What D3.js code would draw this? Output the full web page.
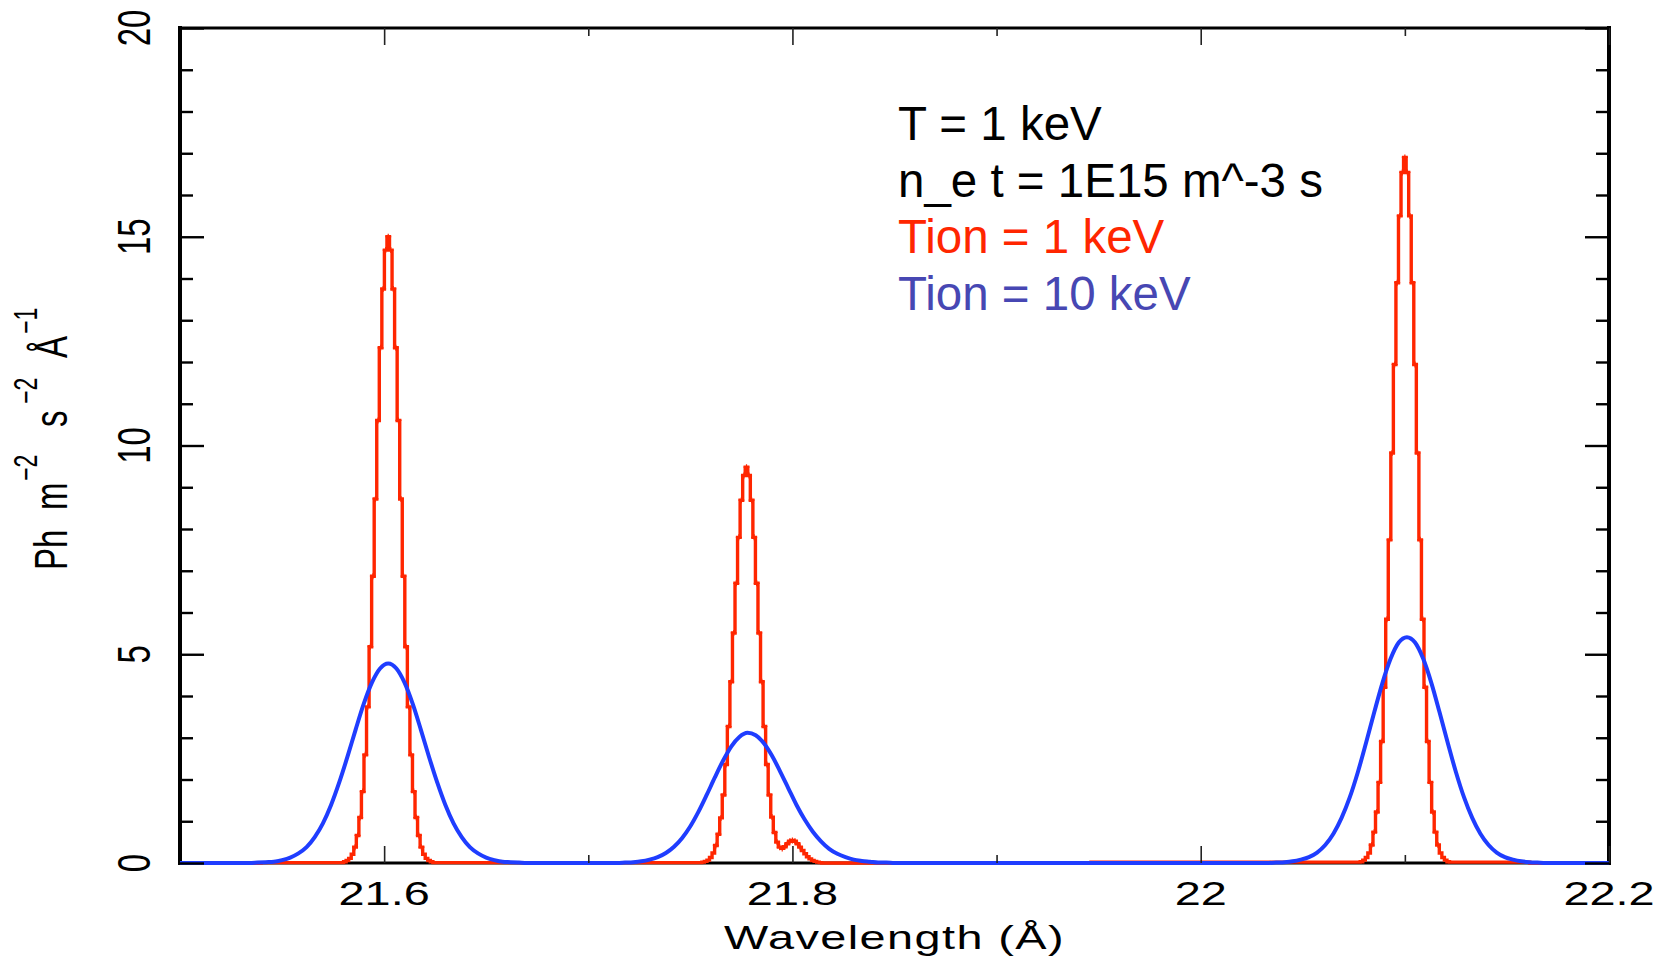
<!DOCTYPE html>
<html>
<head>
<meta charset="utf-8">
<script src="https://cdn.jsdelivr.net/npm/d3@7"></script>
<style>
  html, body { margin: 0; padding: 0; background: #ffffff; }
  svg { display: block; }
  text { font-family: "Liberation Sans", Arial, Helvetica, sans-serif; }
</style>
</head>
<body>
<svg id="chart" width="1671" height="958"></svg>
<script>
// ---------------- DATA ----------------
const xDomain = [21.5, 22.2];
const yDomain = [0, 20];

const xMajorTicks = [21.6, 21.8, 22.0, 22.2];
const xMinorTicks = [21.7, 21.9, 22.1];
const xTickLabels = ["21.6", "21.8", "22", "22.2"];

const yMajorTicks = [0, 5, 10, 15, 20];
const yMinorTicks = [1, 2, 3, 4, 6, 7, 8, 9, 11, 12, 13, 14, 16, 17, 18, 19];
const yTickLabels = ["0", "5", "10", "15", "20"];

const xTitle = "Wavelength (\u00C5)";
const legendLines = ["T = 1 keV", "n_e t = 1E15 m^-3 s", "Tion = 1 keV", "Tion = 10 keV"];

// Tion = 1 keV spectrum (red), histogram bins of 0.00125 \u00C5
const redBinWidth = 0.00125;
const red1Start = 21.5795;
const red1Flux = [0.01,0.03,0.06,0.11,0.21,0.38,0.66,1.09,1.71,2.59,3.74,5.18,6.87,8.72,10.60,12.34,13.75,14.68,
                  15.00,
                  14.68,13.75,12.34,10.60,8.72,6.87,5.18,3.74,2.59,1.71,1.09,0.66,0.38,0.21,0.11,0.06,0.03,0.01];
const red2Start = 21.755;
const red2Flux = [0.01,0.02,0.04,0.07,0.13,0.24,0.42,0.69,1.08,1.63,2.36,3.27,4.34,5.51,6.70,7.80,8.69,9.28,
                  9.48,
                  9.28,8.69,7.80,6.70,5.51,4.34,3.27,2.36,1.63,
                  1.10,0.73,0.50,0.38,0.35,0.39,0.46,0.52,0.54,0.52,0.46,0.38,0.30,0.22,0.15,0.10,0.06,0.04,0.02,0.01,0.00];
const red3Start = 22.0775;
const red3Flux = [0.02,0.03,0.07,0.13,0.24,0.43,0.74,1.22,1.93,2.91,4.21,5.84,7.74,9.82,11.94,13.90,15.50,16.54,
                  16.90,
                  16.54,15.50,13.90,11.94,9.82,7.74,5.84,4.21,2.91,1.93,1.22,0.74,0.43,0.24,0.13,0.07,0.03,0.02];

const blueStep = 0.004;
const blue1Start = 21.534;
const blue1Flux = [0.00,0.01,0.02,0.03,0.07,0.13,0.23,0.38,0.62,0.95,1.39,1.93,2.54,3.19,3.81,4.32,4.66,
                   4.78,
                   4.66,4.32,3.81,3.19,2.54,1.93,1.39,0.95,0.62,0.38,0.23,0.13,0.07,0.03,0.02,0.01,0.00];
const blue2Start = 21.710;
const blue2Flux = [0.00,0.00,0.01,0.02,0.04,0.08,0.14,0.24,0.39,0.60,0.88,1.23,1.63,2.05,2.45,2.79,3.02,
                   3.12,
                   3.06,2.87,2.57,2.19,1.79,1.39,1.04,0.75,0.52,0.34,0.22,0.14,0.08,0.05,0.03,0.01,0.01,0.00];
const blue3Start = 22.033;
const blue3Flux = [0.00,0.01,0.02,0.04,0.08,0.14,0.25,0.43,0.70,1.08,1.57,2.18,2.88,3.61,4.31,4.89,5.28,
                   5.41,
                   5.28,4.89,4.31,3.61,2.88,2.18,1.57,1.08,0.70,0.43,0.25,0.14,0.08,0.04,0.02,0.01,0.00];

// ---------------- LAYOUT ----------------
const plot = { left: 180, right: 1609, top: 28, bottom: 863 };
const SX = 1.42;            // horizontal stretch of the original plot's lettering
const tickFont = 33;
const redColor = "#ff2600";
const blueColor = "#1f3dff";
const blueText = "#4747b3";

const svg = d3.select("#chart");
const x = d3.scaleLinear().domain(xDomain).range([plot.left, plot.right]);
const y = d3.scaleLinear().domain(yDomain).range([plot.bottom, plot.top]);

function bins(start, step, flux) { return flux.map((v, i) => [start + i * step, v]); }

const redPts = [[xDomain[0], 0]]
  .concat(bins(red1Start, redBinWidth, red1Flux))
  .concat(bins(red2Start, redBinWidth, red2Flux))
  .concat(bins(red3Start, redBinWidth, red3Flux))
  .concat([[xDomain[1], 0]]);
const bluePts = [[xDomain[0], 0]]
  .concat(bins(blue1Start, blueStep, blue1Flux))
  .concat(bins(blue2Start, blueStep, blue2Flux))
  .concat(bins(blue3Start, blueStep, blue3Flux))
  .concat([[xDomain[1], 0]]);

// ---------------- FRAME ----------------
const frame = svg.append("g").attr("stroke", "#000").attr("stroke-linecap", "square");
frame.append("line").attr("x1", x(xDomain[0])).attr("x2", x(xDomain[1])).attr("y1", y(yDomain[0])).attr("y2", y(yDomain[0])).attr("stroke-width", 3);
frame.append("line").attr("x1", x(xDomain[0])).attr("x2", x(xDomain[1])).attr("y1", y(yDomain[1])).attr("y2", y(yDomain[1])).attr("stroke-width", 3);
frame.append("line").attr("x1", x(xDomain[0])).attr("x2", x(xDomain[0])).attr("y1", y(yDomain[0])).attr("y2", y(yDomain[1])).attr("stroke-width", 4);
frame.append("line").attr("x1", x(xDomain[1])).attr("x2", x(xDomain[1])).attr("y1", y(yDomain[0])).attr("y2", y(yDomain[1])).attr("stroke-width", 4);

// ---------------- CURVES ----------------
const redLine = d3.line().x(d => x(d[0])).y(d => y(d[1])).curve(d3.curveStep);
const blueLine = d3.line().x(d => x(d[0])).y(d => y(d[1])).curve(d3.curveMonotoneX);

svg.append("path").datum(redPts).attr("d", redLine)
  .attr("fill", "none").attr("stroke", redColor).attr("stroke-width", 3.4);
// small "+" markers on the red histogram points
svg.append("g").selectAll("path").data(redPts.filter(d => d[1] > 0.3)).join("path")
  .attr("d", d => `M${x(d[0]) - 3},${y(d[1])}h6M${x(d[0])},${y(d[1]) - 3}v6`)
  .attr("stroke", redColor).attr("stroke-width", 1.2).attr("fill", "none");

svg.append("path").datum(bluePts).attr("d", blueLine)
  .attr("fill", "none").attr("stroke", blueColor).attr("stroke-width", 4).attr("stroke-linejoin", "round");

// ---------------- TICKS (d3 axes, inward) ----------------
function styleAxis(g, width, color) {
  g.select(".domain").remove();
  g.selectAll(".tick text").remove();
  g.selectAll(".tick line").attr("stroke", color).attr("stroke-width", width);
}
const noLabel = () => "";
svg.append("g").attr("transform", `translate(0,${plot.bottom})`)
  .call(d3.axisBottom(x).tickValues(xMajorTicks).tickSize(-17).tickFormat(noLabel)).call(g => styleAxis(g, 1.6, "#222"));
svg.append("g").attr("transform", `translate(0,${plot.bottom})`)
  .call(d3.axisBottom(x).tickValues(xMinorTicks).tickSize(-8).tickFormat(noLabel)).call(g => styleAxis(g, 1.6, "#222"));
svg.append("g").attr("transform", `translate(0,${plot.top})`)
  .call(d3.axisTop(x).tickValues(xMajorTicks).tickSize(-17).tickFormat(noLabel)).call(g => styleAxis(g, 1.6, "#222"));
svg.append("g").attr("transform", `translate(0,${plot.top})`)
  .call(d3.axisTop(x).tickValues(xMinorTicks).tickSize(-8).tickFormat(noLabel)).call(g => styleAxis(g, 1.6, "#222"));

svg.append("g").attr("transform", `translate(${plot.left},0)`)
  .call(d3.axisLeft(y).tickValues(yMajorTicks).tickSize(-24).tickFormat(noLabel)).call(g => styleAxis(g, 2.4, "#000"));
svg.append("g").attr("transform", `translate(${plot.left},0)`)
  .call(d3.axisLeft(y).tickValues(yMinorTicks).tickSize(-13).tickFormat(noLabel)).call(g => styleAxis(g, 2.4, "#000"));
svg.append("g").attr("transform", `translate(${plot.right},0)`)
  .call(d3.axisRight(y).tickValues(yMajorTicks).tickSize(-24).tickFormat(noLabel)).call(g => styleAxis(g, 2.4, "#000"));
svg.append("g").attr("transform", `translate(${plot.right},0)`)
  .call(d3.axisRight(y).tickValues(yMinorTicks).tickSize(-13).tickFormat(noLabel)).call(g => styleAxis(g, 2.4, "#000"));

// ---------------- TICK LABELS ----------------
svg.append("g").selectAll("text").data(xMajorTicks).join("text")
  .attr("transform", d => `translate(${x(d)},905) scale(${SX},1)`)
  .attr("text-anchor", "middle").attr("font-size", tickFont).attr("fill", "#000")
  .text((d, i) => xTickLabels[i]);

svg.append("g").selectAll("text").data(yMajorTicks).join("text")
  .attr("transform", d => `translate(150,${y(d)}) scale(${SX},1) rotate(-90)`)
  .attr("text-anchor", "middle").attr("font-size", tickFont).attr("fill", "#000")
  .text((d, i) => yTickLabels[i]);

// ---------------- AXIS TITLES ----------------
svg.append("text")
  .attr("transform", `translate(${(plot.left + plot.right) / 2},949) scale(${SX},1)`)
  .attr("text-anchor", "middle").attr("font-size", tickFont).attr("fill", "#000")
  .attr("letter-spacing", 1)
  .text(xTitle);

const yt = svg.append("text")
  .attr("transform", `translate(67,570) scale(${SX},1) rotate(-90)`)
  .attr("text-anchor", "start").attr("font-size", tickFont).attr("fill", "#000");
const yParts = [
  { t: "Ph", x: 0, sup: false },
  { t: "m", x: 60, sup: false },
  { t: "\u22122", x: 89, sup: true },
  { t: "s", x: 143, sup: false },
  { t: "\u22122", x: 166, sup: true },
  { t: "\u00C5", x: 212, sup: false },
  { t: "\u22121", x: 236, sup: true }
];
let prevSup = false;
yParts.forEach(p => {
  const dy = p.sup === prevSup ? 0 : (p.sup ? -21 : 21);
  yt.append("tspan").attr("x", p.x).attr("dy", dy)
    .attr("font-size", p.sup ? 23 : tickFont).text(p.t);
  prevSup = p.sup;
});

// ---------------- ANNOTATION ----------------
const legendColors = ["#000000", "#000000", redColor, blueText];
const legendBase = [140, 197, 253, 310];
svg.append("g").selectAll("text").data(legendLines).join("text")
  .attr("x", 898).attr("y", (d, i) => legendBase[i])
  .attr("font-size", 47.5).attr("fill", (d, i) => legendColors[i])
  .text(d => d);
</script>
</body>
</html>
